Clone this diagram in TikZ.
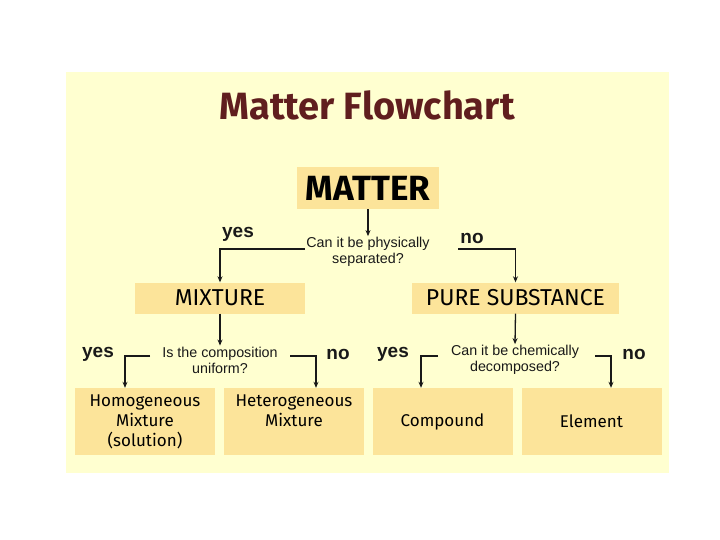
\documentclass[tikz,border=0pt]{standalone}
\usepackage{fontspec}
\setmainfont{Fira Sans}
\newfontfamily\arialf{Liberation Sans}
\usetikzlibrary{arrows.meta}
\definecolor{panel}{RGB}{255,255,208}
\definecolor{boxfill}{RGB}{252,228,154}
\definecolor{titlecol}{RGB}{96,30,30}
\definecolor{linecol}{RGB}{25,25,25}
\tikzset{
  box/.style={draw=none, fill=boxfill, inner sep=0pt, align=center, text=black},
  question/.style={font=\arialf\fontsize{14.3}{16}\selectfont, align=center, inner sep=1pt, text=linecol},
  answer/.style={font=\arialf\bfseries\fontsize{19}{22}\selectfont, inner sep=0pt, text=linecol},
  conn/.style={draw=linecol, line width=1.3pt, -{Stealth[length=6pt,width=5pt]}},
  leaf/.style={box, minimum width=140pt, minimum height=67pt, font=\fontsize{17}{20}\selectfont}
}
\begin{document}
\begin{tikzpicture}[x=1pt,y=-1pt]
\useasboundingbox (0,0) rectangle (720,540);
\fill[white] (0,0) rectangle (720,540);
\fill[panel] (66,72) rectangle (669,473);

\node[font=\bfseries\fontsize{38}{44}\selectfont, text=titlecol] (title) at (367,105) {Matter Flowchart};

\node[box, minimum width=142pt, minimum height=42pt, font=\bfseries\fontsize{35}{40}\selectfont] (matter) at (368,188) {MATTER};
\node[question] (q1) at (368,252) {Can it be physically\\separated?};
\node[answer] (yes1) at (238,234) {yes};
\node[answer] (no1) at (472,238) {no};

\node[box, minimum width=170pt, minimum height=31pt, font=\fontsize{23}{26}\selectfont] (mixture) at (220,298) {MIXTURE};
\node[box, minimum width=207pt, minimum height=31pt, font=\fontsize{23}{26}\selectfont] (pure) at (515.5,298) {PURE SUBSTANCE};

\node[question] (q2) at (220,360) {Is the composition\\uniform?};
\node[answer] (yes2) at (98,354) {yes};
\node[answer] (no2) at (338,354) {no};

\node[question] (q3) at (515,360) {Can it be chemically\\decomposed?};
\node[answer] (yes3) at (393,354) {yes};
\node[answer] (no3) at (634,354) {no};

\node[leaf] (homo) at (145,421.5) {Homogeneous\\Mixture\\(solution)};
\node[leaf] (hetero) at (294,421.5) {Heterogeneous\\Mixture\\\phantom{(solution)}};
\node[leaf] (compound) at (442.5,421.5) {Compound};
\node[leaf] (element) at (591.5,421.5) {Element};

% connectors
\coordinate (q1l) at (305,249);
\coordinate (q1r) at (458,249);
\coordinate (q2l) at (150,356);
\coordinate (q2r) at (290,356);
\coordinate (q3l) at (438,356);
\coordinate (q3r) at (595,356);

\draw[conn] (matter.south) -- (q1.north);
\draw[conn] (q1l) -| (mixture.north);
\draw[conn] (q1r) -| (pure.north);

\draw[conn] (mixture.south) -- (q2.north);
\draw[conn] (q2l) -| ([xshift=-20pt]homo.north);
\draw[conn] (q2r) -| ([xshift=22pt]hetero.north);

\draw[conn] (pure.south) -- (q3.north);
\draw[conn] (q3l) -| ([xshift=-21.5pt]compound.north);
\draw[conn] (q3r) -| ([xshift=19.5pt]element.north);
\end{tikzpicture}
\end{document}
